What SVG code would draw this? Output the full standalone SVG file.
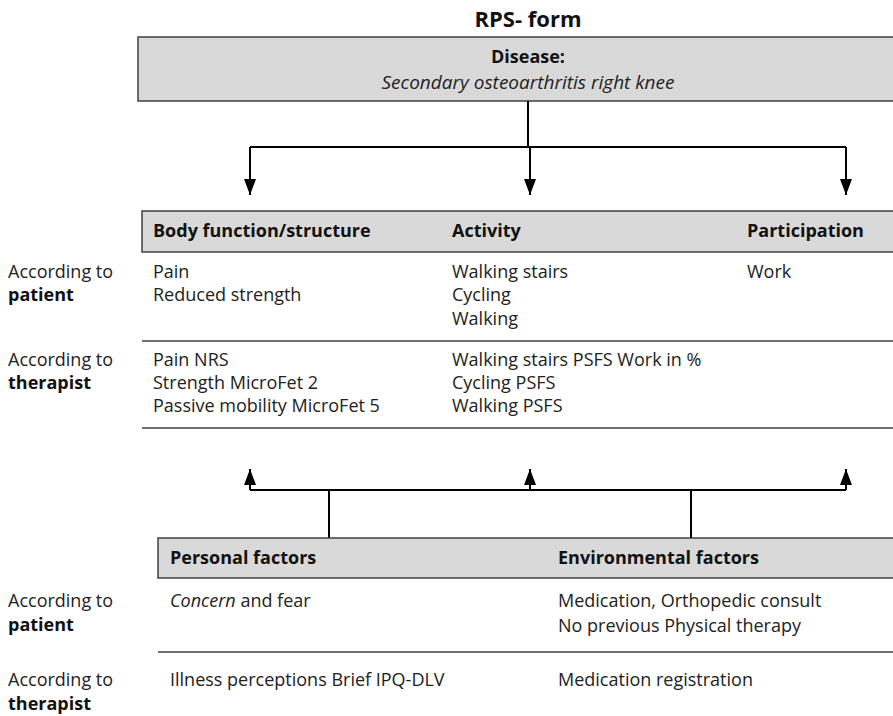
<svg xmlns="http://www.w3.org/2000/svg" width="893" height="716" viewBox="0 0 893 716">
  <defs>
    <marker id="arrow" viewBox="0 0 10 10" refX="10" refY="5" markerWidth="16" markerHeight="12" markerUnits="userSpaceOnUse" orient="auto" preserveAspectRatio="none">
      <path d="M0,0 L10,5 L0,10 Z" fill="#000"/>
    </marker>
    <style>
      text { font-family: "Open Sans", "Noto Sans", "Liberation Sans", sans-serif; font-size: 18px; fill: #222; }
      .b { font-weight: bold; fill: #111; }
      .i { font-style: italic; }
      .band { fill: #d9d9d9; stroke: #404040; stroke-width: 1.5; }
      .rule { stroke: #404040; stroke-width: 1.5; fill: none; }
      .conn { stroke: #000; stroke-width: 2; fill: none; }
    </style>
  </defs>
  <rect width="893" height="716" fill="#fff"/>

  <text x="528" y="27" text-anchor="middle" class="b" style="font-size:22px">RPS- form</text>

  <g id="disease">
    <rect class="band" x="138" y="37" width="756" height="64"/>
    <text x="528" y="63" text-anchor="middle" class="b">Disease:</text>
    <text x="528" y="89" text-anchor="middle" class="i" style="font-size:19px">Secondary osteoarthritis right knee</text>
  </g>

  <g id="connectors">
    <path class="conn" d="M528,101 V147"/>
    <path class="conn" d="M250,147 H846"/>
    <path class="conn" d="M250,147 V195" marker-end="url(#arrow)"/>
    <path class="conn" d="M530,147 V195" marker-end="url(#arrow)"/>
    <path class="conn" d="M846,147 V195" marker-end="url(#arrow)"/>
    <path class="conn" d="M250,490 H846"/>
    <path class="conn" d="M250,490 V469" marker-end="url(#arrow)"/>
    <path class="conn" d="M530,490 V469" marker-end="url(#arrow)"/>
    <path class="conn" d="M846,490 V469" marker-end="url(#arrow)"/>
    <path class="conn" d="M329,490 V538"/>
    <path class="conn" d="M691,490 V538"/>
  </g>

  <g id="icf-table">
    <rect class="band" x="142" y="211" width="752" height="41"/>
    <text x="153" y="237" class="b">Body function/structure</text>
    <text x="452" y="237" class="b">Activity</text>
    <text x="747" y="237" class="b">Participation</text>

    <text x="8" y="278">According to</text>
    <text x="8" y="301" class="b">patient</text>
    <text x="153" y="278">Pain</text>
    <text x="153" y="301">Reduced strength</text>
    <text x="452" y="278">Walking stairs</text>
    <text x="452" y="301">Cycling</text>
    <text x="452" y="325">Walking</text>
    <text x="747" y="278">Work</text>

    <line class="rule" x1="142" y1="341" x2="893" y2="341"/>

    <text x="8" y="366">According to</text>
    <text x="8" y="389" class="b">therapist</text>
    <text x="153" y="366">Pain NRS</text>
    <text x="153" y="389">Strength MicroFet 2</text>
    <text x="153" y="412">Passive mobility MicroFet 5</text>
    <text x="452" y="366">Walking stairs PSFS Work in %</text>
    <text x="452" y="389">Cycling PSFS</text>
    <text x="452" y="412">Walking PSFS</text>

    <line class="rule" x1="142" y1="428" x2="893" y2="428"/>
  </g>

  <g id="context-table">
    <rect class="band" x="158" y="538" width="736" height="40"/>
    <text x="170" y="564" class="b">Personal factors</text>
    <text x="558" y="564" class="b">Environmental factors</text>

    <text x="8" y="607">According to</text>
    <text x="8" y="631" class="b">patient</text>
    <text x="170" y="607"><tspan class="i">Concern</tspan> and fear</text>
    <text x="558" y="607">Medication, Orthopedic consult</text>
    <text x="558" y="632">No previous Physical therapy</text>

    <line class="rule" x1="158" y1="652" x2="893" y2="652"/>

    <text x="8" y="686">According to</text>
    <text x="8" y="710" class="b">therapist</text>
    <text x="170" y="686">Illness perceptions Brief IPQ-DLV</text>
    <text x="558" y="686">Medication registration</text>
  </g>
</svg>
